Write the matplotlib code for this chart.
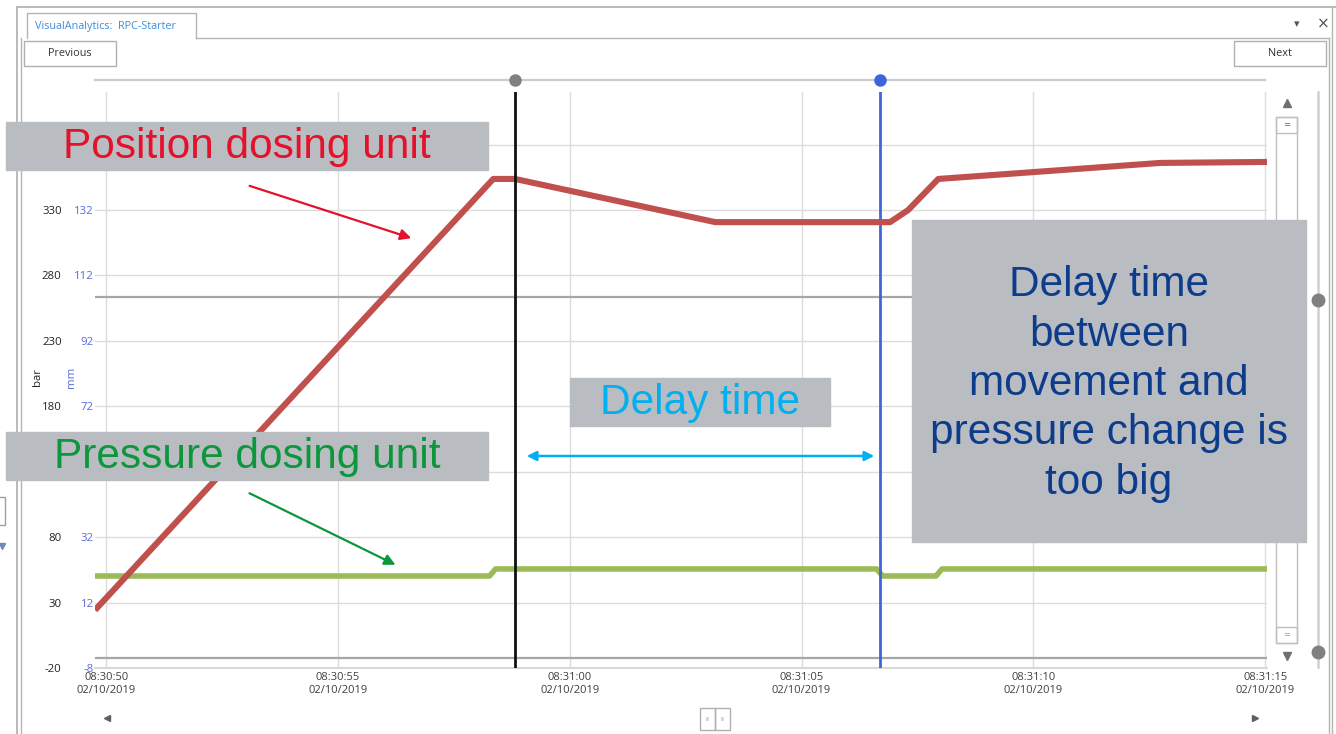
import matplotlib
matplotlib.use("Agg")
import matplotlib.pyplot as plt
from matplotlib.patches import Rectangle, FancyArrowPatch

# ---------------- data ----------------
# time in seconds after 08:30:50 (02/10/2019)
x_ticks_s = [0, 5, 10, 15, 20, 25]
x_tick_labels = ["08:30:50\n02/10/2019", "08:30:55\n02/10/2019", "08:31:00\n02/10/2019",
                 "08:31:05\n02/10/2019", "08:31:10\n02/10/2019", "08:31:15\n02/10/2019"]
bar_ticks = [-20, 30, 80, 130, 180, 230, 280, 330, 380]
bar_tick_labels = ["-20", "30", "80", "", "180", "230", "280", "330", ""]
mm_ticks = [-8, 12, 32, 52, 72, 92, 112, 132, 152]
mm_tick_labels = ["-8", "12", "32", "", "72", "92", "112", "132", ""]

# Position dosing unit (mm)
pos_t = [-0.24, 8.35, 8.82, 13.14, 16.91, 17.30, 17.95, 22.74, 25.04]
pos_mm = [9.7, 141.5, 141.5, 128.3, 128.3, 132.0, 141.5, 146.4, 146.7]

# Pressure dosing unit (bar)
pres_t = [-0.24, 8.27, 8.40, 16.62, 16.75, 17.90, 18.03, 25.04]
pres_bar = [50.3, 50.3, 55.7, 55.7, 50.3, 50.3, 55.7, 55.7]

# cursors (s)
cursor_black = 8.82
cursor_blue = 16.69
# reference lines (bar)
ref_lines_bar = [263.5, -12.4]

xlim = (-0.24, 25.04)
ylim_bar = (-20, 420.2)
mm_per_bar = 1 / 2.5
ylim_mm = (ylim_bar[0] * mm_per_bar, ylim_bar[1] * mm_per_bar)

W, H = 1336, 734
fig = plt.figure(figsize=(W / 100, H / 100), dpi=100)
fig.patch.set_facecolor("white")

UI_FONT = ["Open Sans", "DejaVu Sans"]
ANN_FONT = ["Liberation Sans", "DejaVu Sans"]

ax_w_px = 1267 - 95
ax = fig.add_axes([95 / W, (H - 668) / H, ax_w_px / W, (668 - 92) / H])
ax.set_xlim(*xlim)
ax.set_ylim(*ylim_bar)
ax.set_facecolor("white")
for s in ["top", "left", "right"]:
    ax.spines[s].set_visible(False)
ax.spines["bottom"].set_color("#d8d8d8")
ax.spines["bottom"].set_linewidth(1.5)

ax.set_yticks(bar_ticks)
ax.set_yticklabels(bar_tick_labels, fontfamily=UI_FONT, fontsize=8.2, color="#222222")
ax.tick_params(axis="y", length=0, pad=24)
ax.set_xticks(x_ticks_s)
ax.set_xticklabels(x_tick_labels, fontfamily=UI_FONT, fontsize=8, color="#404040")
ax.tick_params(axis="x", length=0, pad=3)
ax.grid(True, color="#dcdcdc", linewidth=1.0)
ax.set_axisbelow(True)

for v in ref_lines_bar:
    ax.axhline(v, color="#a6a6a6", linewidth=1.6, zorder=2)

ax.plot(pres_t, pres_bar, color="#9bbb59", linewidth=4.0, solid_joinstyle="round",
        solid_capstyle="butt", zorder=4)

ax.text(-(95 - 37) / ax_w_px, 0.505, "bar", transform=ax.transAxes, rotation=90,
        ha="center", va="center", fontfamily=UI_FONT, fontsize=8.2, color="#222222")
ax.text(-(95 - 71) / ax_w_px, 0.505, "mm", transform=ax.transAxes, rotation=90,
        ha="center", va="center", fontfamily=UI_FONT, fontsize=8.2, color="#5a6bdc")

ax2 = ax.twinx()
ax2.set_ylim(*ylim_mm)
ax2.set_xlim(*xlim)
ax2.patch.set_visible(False)
for s in ax2.spines.values():
    s.set_visible(False)
ax2.yaxis.tick_left()
ax2.set_yticks(mm_ticks)
ax2.set_yticklabels(mm_tick_labels, fontfamily=UI_FONT, fontsize=8.2, color="#5a6bdc")
ax2.tick_params(axis="y", length=0, pad=1)

ax2.plot(pos_t, pos_mm, color="#c0504d", linewidth=4.4, solid_joinstyle="round",
         solid_capstyle="butt", zorder=4)

ax2.axvline(cursor_black, color="#111111", linewidth=2.0, zorder=5)
ax2.axvline(cursor_blue, color="#3f66d8", linewidth=2.0, zorder=3)

# slider with cursor handles above the plot
slider_y = 429.3 * mm_per_bar
ax2.plot([xlim[0], 25.0], [slider_y, slider_y], color="#cccccc", linewidth=1.6,
         clip_on=False, zorder=3)
ax2.plot([cursor_black], [slider_y], "o", color="#808080", markersize=8, clip_on=False, zorder=6)
ax2.plot([cursor_blue], [slider_y], "o", color="#3f66d8", markersize=8, clip_on=False, zorder=6)

# ---------------- UI overlay ----------------
ui = fig.add_axes([0, 0, 1, 1], zorder=10)
ui.set_xlim(0, W)
ui.set_ylim(H, 0)
ui.axis("off")
ui.patch.set_visible(False)

frame = "#b4b4b4"
ui.plot([17, W], [7, 7], color=frame, lw=1.3)
ui.plot([17, 17], [7, H], color=frame, lw=1.3)
ui.plot([21, 21], [38, H], color=frame, lw=1.0)
ui.plot([1329, 1329], [38, H], color=frame, lw=1.0)
ui.plot([1332, 1332], [7, H], color=frame, lw=1.0)
ui.plot([196, 1329], [38, 38], color=frame, lw=1.0)
ui.plot([27, 27, 196, 196], [38, 13, 13, 38], color=frame, lw=1.0)
ui.text(35, 26.5, "VisualAnalytics:  RPC-Starter", fontfamily=UI_FONT, fontsize=7.8,
        color="#3b8ee0", va="center", ha="left")
ui.text(1297, 24, "▾", fontfamily=["DejaVu Sans"], fontsize=8, color="#555555", ha="center", va="center")
ui.text(1323, 24, "×", fontfamily=["DejaVu Sans"], fontsize=11, color="#555555", ha="center", va="center")

for (x0, x1, lab) in [(24, 116, "Previous"), (1234, 1326, "Next")]:
    ui.add_patch(Rectangle((x0, 41), x1 - x0, 25, fill=False, ec="#b0b0b0", lw=1.0))
    ui.text((x0 + x1) / 2, 53.5, lab, fontfamily=UI_FONT, fontsize=7.8, color="#333333",
            ha="center", va="center")

# vertical scrollbar
ui.plot([1287], [103], marker="^", color="#707070", markersize=6)
ui.plot([1287], [656], marker="v", color="#707070", markersize=6)
ui.add_patch(Rectangle((1276, 117), 21, 526, fill=False, ec="#c0c0c0", lw=1.0))
ui.add_patch(Rectangle((1276, 117), 21, 16, fill=False, ec="#c0c0c0", lw=1.0))
ui.add_patch(Rectangle((1276, 627), 21, 16, fill=False, ec="#c0c0c0", lw=1.0))
ui.text(1286.5, 125, "=", fontsize=6, color="#666666", ha="center", va="center")
ui.text(1286.5, 635, "=", fontsize=6, color="#999999", ha="center", va="center")
ui.plot([1318, 1318], [92, 667], color="#d0d0d0", lw=1.8)
ui.plot([1318, 1318], [300, 652], "o", color="#808080", markersize=9)

# horizontal scroll controls
ui.plot([107], [718], marker="<", color="#606060", markersize=5)
ui.plot([1255], [718], marker=">", color="#606060", markersize=5)
ui.add_patch(Rectangle((700, 708), 15, 22, fill=False, ec="#b0b0b0", lw=1.0))
ui.add_patch(Rectangle((715, 708), 15, 22, fill=False, ec="#b0b0b0", lw=1.0))
ui.text(707.5, 719, "ıı", fontsize=5, color="#999999", ha="center", va="center")
ui.text(722.5, 719, "ıı", fontsize=5, color="#999999", ha="center", va="center")

# left edge partial widget
ui.add_patch(Rectangle((-5, 497), 10, 28, fill=False, ec="#a0a0a0", lw=1.0))
ui.plot([2], [546], marker="v", color="#6a8cb0", markersize=5)

# ---------------- annotations ----------------
box_c = "#b9bdc1"
ANN_SIZE = 30.5
ui.add_patch(Rectangle((6, 122), 482, 48, color=box_c, zorder=11))
ui.text(247, 147, "Position dosing unit", fontfamily=ANN_FONT, fontsize=ANN_SIZE, color="#e5102a",
        ha="center", va="center", zorder=12)
ui.add_patch(FancyArrowPatch((247, 185), (414, 239), arrowstyle="-|>", mutation_scale=16,
                             color="#e5102a", lw=1.6, zorder=12))

ui.add_patch(Rectangle((6, 432), 482, 48, color=box_c, zorder=11))
ui.text(247, 457, "Pressure dosing unit", fontfamily=ANN_FONT, fontsize=ANN_SIZE, color="#0d963c",
        ha="center", va="center", zorder=12)
ui.add_patch(FancyArrowPatch((247, 492), (398, 566), arrowstyle="-|>", mutation_scale=16,
                             color="#0d963c", lw=1.6, zorder=12))

ui.add_patch(Rectangle((570, 378), 260, 48, color=box_c, zorder=11))
ui.text(700, 403, "Delay time", fontfamily=ANN_FONT, fontsize=ANN_SIZE, color="#00b0f0",
        ha="center", va="center", zorder=12)
ui.add_patch(FancyArrowPatch((524, 456), (877, 456), arrowstyle="<|-|>", mutation_scale=14,
                             color="#00b0f0", lw=1.8, zorder=12))

ui.add_patch(Rectangle((912, 220), 394, 322, color=box_c, zorder=11))
ui.text(1109, 384, "Delay time\nbetween\nmovement and\npressure change is\ntoo big",
        fontfamily=ANN_FONT, fontsize=ANN_SIZE, color="#0e3c8c", ha="center", va="center",
        linespacing=1.3, zorder=12)

fig.savefig("out.png", dpi=100)
